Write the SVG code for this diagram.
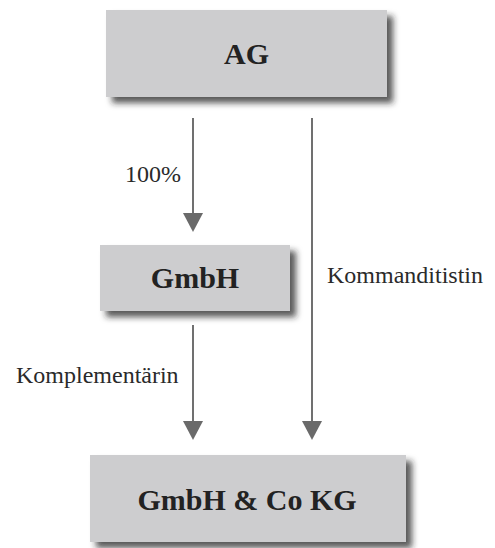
<svg xmlns="http://www.w3.org/2000/svg" width="495" height="548" viewBox="0 0 495 548">
  <style>
    .box { fill: #cdcdcf; filter: url(#shadow); }
    .title { font-family: "Liberation Serif", "Times New Roman", serif; font-weight: bold; font-size: 30px; fill: #222; text-anchor: middle; }
    .label { font-family: "Liberation Serif", "Times New Roman", serif; font-size: 24px; fill: #2a2a2a; }
    .edge { stroke: #707070; stroke-width: 2; fill: none; marker-end: url(#arrow); }
  </style>
  <defs>
    <filter id="shadow" x="-10%" y="-20%" width="130%" height="150%">
      <feDropShadow dx="6" dy="6" stdDeviation="3" flood-color="#222" flood-opacity="0.75"/>
    </filter>
    <marker id="arrow" markerUnits="userSpaceOnUse" markerWidth="20" markerHeight="20" viewBox="0 -10 20 20" refX="17" refY="0" orient="auto">
      <path d="M0,-10 L19,0 L0,10 z" fill="#6a6a6a"/>
    </marker>
  </defs>
  <rect width="495" height="548" fill="#ffffff"/>
  <g id="connectors">
    <line class="edge" x1="193" y1="118" x2="193" y2="230"/>
    <line class="edge" x1="312" y1="118" x2="312" y2="438"/>
    <line class="edge" x1="193" y1="325" x2="193" y2="438"/>
    <text class="label" x="125" y="182">100%</text>
    <text class="label" x="327" y="283">Kommanditistin</text>
    <text class="label" x="16" y="383">Komplementärin</text>
  </g>
  <g id="node-ag">
    <rect class="box" x="106" y="10" width="281" height="87"/>
    <text class="title" x="246.5" y="64">AG</text>
  </g>
  <g id="node-gmbh">
    <rect class="box" x="100" y="245" width="190" height="66"/>
    <text class="title" x="195" y="288">GmbH</text>
  </g>
  <g id="node-kg">
    <rect class="box" x="90" y="455" width="316" height="87"/>
    <text class="title" x="247" y="510">GmbH &amp; Co KG</text>
  </g>
</svg>
